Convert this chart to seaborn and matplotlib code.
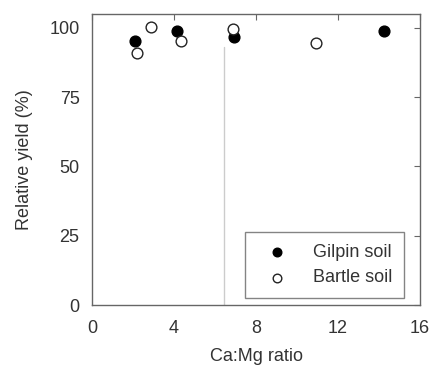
import matplotlib
matplotlib.use("Agg")
import matplotlib.pyplot as plt
import seaborn as sns
import pandas as pd

gilpin_ratio = [2.1, 4.16, 6.94, 14.26]
gilpin_yield = [95.4, 99.0, 96.6, 98.9]
bartle_ratio = [2.2, 2.9, 4.34, 6.86, 10.93]
bartle_yield = [90.9, 100.2, 95.4, 99.5, 94.7]
threshold_ratio = 6.45
xticks = [0, 4, 8, 12, 16]
yticks = [0, 25, 50, 75, 100]

sns.set_style("white")
plt.rcParams['font.family'] = ['Liberation Sans', 'DejaVu Sans']

df_g = pd.DataFrame({"ratio": gilpin_ratio, "yield": gilpin_yield})
df_b = pd.DataFrame({"ratio": bartle_ratio, "yield": bartle_yield})

fig = plt.figure(figsize=(4.31, 3.76), dpi=100)
ax = fig.add_axes([0.2135, 0.1888, 0.761, 0.774])

gray = "#666666"
txt = "#333333"
fs = 13

ax.axvline(threshold_ratio, ymin=0, ymax=93/105, color="#cccccc", lw=1, zorder=1)

sns.scatterplot(data=df_g, x="ratio", y="yield", ax=ax, color="black",
                edgecolor="black", s=60, linewidth=1, label="Gilpin soil", zorder=3)
sns.scatterplot(data=df_b, x="ratio", y="yield", ax=ax, color="white",
                edgecolor="#222222", s=60, linewidth=1, label="Bartle soil", zorder=3)

ax.set_xlim(0, 16)
ax.set_ylim(0, 105)
ax.set_xticks(xticks)
ax.set_yticks(yticks)
ax.set_xlabel("Ca:Mg ratio", fontsize=fs, color=txt, labelpad=8)
ax.set_ylabel("Relative yield (%)", fontsize=fs, color=txt, labelpad=12)
ax.tick_params(axis="both", direction="out", length=4, width=1, color=gray,
               labelsize=fs, labelcolor=txt, pad=5)
ax.tick_params(axis="x", pad=7)
for sp in ax.spines.values():
    sp.set_color(gray)
    sp.set_linewidth(1)

secx = ax.secondary_xaxis("top")
secx.set_xticks(xticks)
secx.tick_params(direction="in", length=4, color=gray, labeltop=False)
secx.spines["top"].set_visible(False)
secy = ax.secondary_yaxis("right")
secy.set_yticks(yticks)
secy.tick_params(direction="in", length=4, color=gray, labelright=False)
secy.spines["right"].set_visible(False)

leg = ax.legend(loc="lower right", bbox_to_anchor=(0.951, 0.024), fontsize=fs,
                frameon=True, fancybox=False, edgecolor=gray, borderpad=0.65,
                handletextpad=0.9, labelspacing=0.45, borderaxespad=0,
                markerscale=0.8, handlelength=2.2)
leg.get_frame().set_linewidth(1)
for t in leg.get_texts():
    t.set_color(txt)

fig.savefig("out.png", dpi=100)
